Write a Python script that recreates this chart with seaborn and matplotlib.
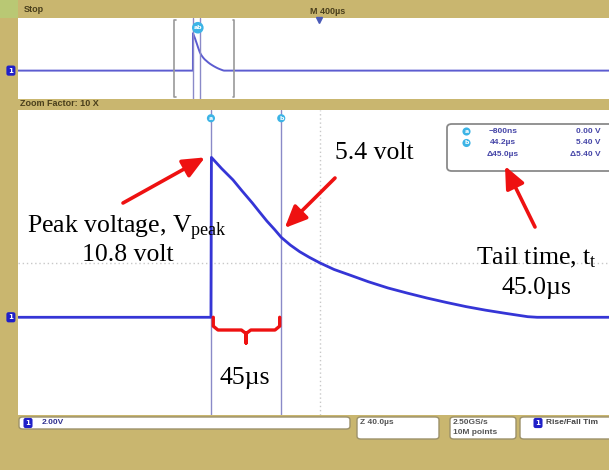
import numpy as np
import pandas as pd
import matplotlib
matplotlib.use("Agg")
import matplotlib.pyplot as plt
from matplotlib.patches import FancyBboxPatch, FancyArrowPatch
import seaborn as sns

# Waveform (time in us, voltage in V)
trace_time_us = [-124, -0.8, -0.5, 6, 13.3, 19, 25.7, 30, 35, 40, 44.2, 50, 56, 62,
                 68.8, 78, 87.9, 100, 112.5, 125, 137.5, 150, 162.5, 175, 187.5,
                 195, 202, 208, 254]
trace_volts = [0, 0, 10.8, 10.05, 9.28, 8.55, 7.72, 7.15, 6.5, 5.92, 5.4, 4.88, 4.43,
               4.06, 3.68, 3.23, 2.86, 2.4, 1.98, 1.63, 1.3, 1.0, 0.72, 0.48, 0.27,
               0.15, 0.04, 0, 0]

cursor_a_us = -0.8
cursor_b_us = 44.2
peak_v = 10.8
half_v = 5.4

meas_times = ["\u2212800ns", "44.2\u00b5s", "\u039445.0\u00b5s"]
meas_volts = ["0.00 V", "5.40 V", "\u03945.40 V"]

# screen ranges
main_xlim = (-124.3, 254)
main_ylim = (-6.6, 14.0)
grid_center = (69, 3.7)
zoom_window = (-124.3, 275.7)   # 10 div x 40 us shown in overview
ov_xlim = (-1167, 2773)
ov_ylim = (-8.2, 15.2)

W, H = 609, 470
khaki = "#c9b66f"
trace_col = "#3535d6"
cursor_col = "#8a8ac8"
cyan = "#3cb4e6"
red = "#ee1111"
ui_text = "#4a3f1c"

sns.set_theme(style="white")
plt.rcParams["mathtext.fontset"] = "custom"
plt.rcParams["mathtext.rm"] = "Liberation Serif"
plt.rcParams["mathtext.it"] = "Liberation Serif:italic"

def fx(px):
    return px / W

def fy(py):
    return 1 - py / H

fig = plt.figure(figsize=(W / 100, H / 100), dpi=100)
fig.patch.set_facecolor(khaki)

# little green logo corner
fig.add_artist(plt.Rectangle((0, fy(18)), fx(18), 18 / H, transform=fig.transFigure,
                             facecolor="#b9c874", edgecolor="none"))
fig.text(fx(24), fy(10), "Stop", fontsize=6.5, fontweight="bold", color=ui_text,
         va="center", family="Liberation Sans")
fig.text(fx(310), fy(11), "M 400\u00b5s", fontsize=6.5, fontweight="bold", color=ui_text,
         va="center", family="Liberation Sans")
fig.text(fx(20), fy(104), "Zoom Factor: 10 X", fontsize=6.5, fontweight="bold",
         color=ui_text, va="center", family="Liberation Sans")

df = pd.DataFrame({"time": trace_time_us, "volts": trace_volts})
ov_df = pd.DataFrame({"time": [ov_xlim[0]] + trace_time_us + [ov_xlim[1]],
                      "volts": [0] + trace_volts + [0]})

# ---- overview panel
ax_ov = fig.add_axes([fx(18), fy(99), fx(609) - fx(18), (99 - 18) / H])
ax_ov.set_facecolor("white")
sns.lineplot(data=ov_df, x="time", y="volts", ax=ax_ov, sort=False, estimator=None,
             color="#5c5cd0", lw=1.4)
ax_ov.set_xlim(*ov_xlim)
ax_ov.set_ylim(*ov_ylim)
tr = ax_ov.get_xaxis_transform()
hook = 0.025 * (ov_xlim[1] - ov_xlim[0]) / 10
for x, d in ((zoom_window[0], 1), (zoom_window[1], -1)):
    ax_ov.plot([x + d * hook, x, x, x + d * hook], [0.97, 0.97, 0.03, 0.03],
               transform=tr, color="#9a9a9a", lw=1.2)
for x in (cursor_a_us, cursor_b_us):
    ax_ov.axvline(x, color=cursor_col, lw=1)
ax_ov.text(np.mean([cursor_a_us, cursor_b_us]) + 10, 0.88, "ab", transform=tr,
           ha="center", va="center", fontsize=4.5, color="white", fontweight="bold",
           bbox=dict(boxstyle="circle,pad=0.25", facecolor=cyan, edgecolor="none"))
ax_ov.plot([0.51], [0.97], transform=ax_ov.transAxes, marker="v", color="#4a5ab8",
           ms=5, clip_on=False)
ax_ov.annotate("1", xy=(-0.012, 0), xycoords=("axes fraction", "data"), ha="center",
               va="center", fontsize=5, color="white", fontweight="bold",
               bbox=dict(boxstyle="round,pad=0.3", facecolor="#2020c8", edgecolor="none"),
               annotation_clip=False)

# ---- main (zoomed) panel
ax = fig.add_axes([fx(18), fy(415), fx(609) - fx(18), (415 - 110) / H])
ax.set_facecolor("white")
ax.axvline(grid_center[0], color="#c8c8c8", lw=1, ls=(0, (1, 2)))
ax.axhline(grid_center[1], color="#c8c8c8", lw=1, ls=(0, (1, 2)))
for x in (cursor_a_us, cursor_b_us):
    ax.axvline(x, color=cursor_col, lw=1)
sns.lineplot(data=df, x="time", y="volts", ax=ax, sort=False, estimator=None,
             color=trace_col, lw=2)
ax.set_xlim(*main_xlim)
ax.set_ylim(*main_ylim)

for x, lab in ((cursor_a_us, "a"), (cursor_b_us, "b")):
    ax.text(x, 0.973, lab, transform=ax.get_xaxis_transform(), ha="center", va="center",
            fontsize=4.5, color="white", fontweight="bold",
            bbox=dict(boxstyle="circle,pad=0.25", facecolor=cyan, edgecolor="none"))
ax.annotate("1", xy=(-0.012, 0), xycoords=("axes fraction", "data"), ha="center",
            va="center", fontsize=5, color="white", fontweight="bold",
            bbox=dict(boxstyle="round,pad=0.3", facecolor="#2020c8", edgecolor="none"),
            annotation_clip=False)

for a in (ax_ov, ax):
    a.set_xticks([])
    a.set_yticks([])
    a.set_xlabel("")
    a.set_ylabel("")
    for s in a.spines.values():
        s.set_visible(False)

# measurement readout box
fig.add_artist(FancyBboxPatch((fx(447), fy(171)), fx(640) - fx(447), (171 - 124) / H,
                              boxstyle="round,pad=0,rounding_size=0.008",
                              transform=fig.transFigure, facecolor="white",
                              edgecolor="#8a8a8a", lw=1.3))
rows_py = [131.5, 143, 154.5]
for i, py in enumerate(rows_py):
    if i < 2:
        fig.text(fx(466.5), fy(py), "ab"[i], ha="center", va="center", fontsize=4.5,
                 color="white", fontweight="bold",
                 bbox=dict(boxstyle="circle,pad=0.25", facecolor=cyan, edgecolor="none"))
    fig.text(fx(503), fy(py), meas_times[i], ha="center", va="center", fontsize=6,
             fontweight="bold", color="#4646a8", family="Liberation Sans")
    fig.text(fx(601), fy(py), meas_volts[i], ha="right", va="center", fontsize=6,
             fontweight="bold", color="#4646a8", family="Liberation Sans")

# annotations
serif = dict(family="Liberation Serif", fontsize=18.5, color="black")
arrow_kw = dict(arrowstyle="-|>,head_length=0.95,head_width=0.42", color=red, lw=2.6,
                mutation_scale=14, shrinkA=0, shrinkB=0)
ax.annotate("", xy=(cursor_a_us - 3.8, peak_v), xytext=(fx(123), fy(203)),
            textcoords="figure fraction", arrowprops=arrow_kw)
ax.annotate("", xy=(cursor_b_us + 2.2, half_v + 0.63), xytext=(fx(335), fy(178)),
            textcoords="figure fraction", arrowprops=arrow_kw)
fig.add_artist(FancyArrowPatch((fx(535), fy(227)), (fx(505), fy(166)),
                               transform=fig.transFigure, **arrow_kw))

fig.text(fx(27), fy(228), r"Peak voltage, V$_{\rm peak}$", ha="left", va="center", **serif)
fig.text(fx(128), fy(255), "10.8 volt", ha="center", va="center", **serif)
fig.text(fx(374), fy(153), "5.4 volt", ha="center", va="center", **serif)
fig.text(fx(536), fy(258), r"Tail time, t$_{\rm t}$", ha="center", va="center", **serif)
fig.text(fx(536), fy(288), "45.0\u00b5s", ha="center", va="center", **serif)
fig.text(fx(245), fy(378), "45\u00b5s", ha="center", va="center", **serif)

# curly brace under the cursors
mid = (cursor_a_us + cursor_b_us) / 2
ta, tb = cursor_a_us + 1.5, cursor_b_us - 1
brace_t = [ta, ta, ta + 3, mid - 3, mid, mid, mid, mid + 3, tb - 3, tb, tb]
brace_v = [0, -0.6, -0.86, -0.86, -1.1, -1.74, -1.1, -0.86, -0.86, -0.6, 0]
ax.plot(brace_t, brace_v, color=red, lw=2.4, solid_joinstyle="round",
        solid_capstyle="round")

# bottom status boxes
def status_box(x0, x1, y0, y1):
    fig.add_artist(FancyBboxPatch((fx(x0), fy(y1)), fx(x1) - fx(x0), (y1 - y0) / H,
                                  boxstyle="round,pad=0,rounding_size=0.006",
                                  transform=fig.transFigure, facecolor="white",
                                  edgecolor="#9c916a", lw=1))

status_box(19, 350, 417, 429)
status_box(357, 439, 417, 439)
status_box(450, 516, 417, 439)
status_box(520, 640, 417, 439)
for px in (28, 538):
    fig.text(fx(px), fy(423), "1", ha="center", va="center", fontsize=5, color="white",
             fontweight="bold",
             bbox=dict(boxstyle="round,pad=0.3", facecolor="#2020c8", edgecolor="none"))
small = dict(fontsize=6, fontweight="bold", va="center", family="Liberation Sans")
fig.text(fx(42), fy(423), "2.00V", color="#303090", **small)
fig.text(fx(360), fy(423), "Z 40.0\u00b5s", color="#555555", **small)
fig.text(fx(453), fy(423), "2.50GS/s", color="#555555", **small)
fig.text(fx(453), fy(433), "10M points", color="#555555", **small)
fig.text(fx(546), fy(423), "Rise/Fall Tim", color="#444444", **small)

fig.savefig("out.png", dpi=100, facecolor=fig.get_facecolor())
